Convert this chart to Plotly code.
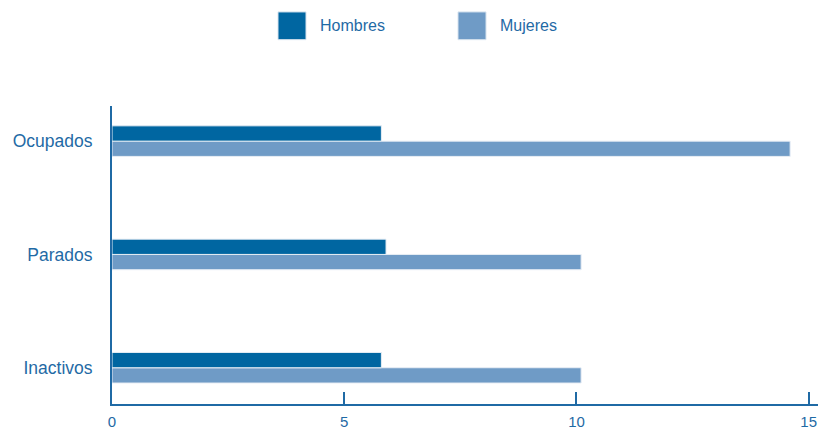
import plotly.graph_objects as go

categories = ["Ocupados", "Parados", "Inactivos"]
hombres = [5.8, 5.9, 5.8]
mujeres = [14.6, 10.1, 10.1]
series_names = ["Hombres", "Mujeres"]
x_ticks = [0, 5, 10, 15]

C_H = "#0066a1"
C_M = "#6f9bc6"
C_TXT = "#1f6aa5"
FONT = "Liberation Sans, Arial, sans-serif"

W, H = 819, 431
L, R, T, B = 112, 1, 106, 24
pw, ph = W - L - R, H - T - B

def px_x(px):
    return (px - L) / pw

def px_y(py):
    return (H - B - py) / ph

fig = go.Figure()
# Mujeres first so it sits below Hombres within each group
fig.add_trace(go.Bar(y=categories, x=mujeres, name=series_names[1], orientation="h",
                     marker=dict(color=C_M, line=dict(color="#e8eef5", width=1)),
                     showlegend=False))
fig.add_trace(go.Bar(y=categories, x=hombres, name=series_names[0], orientation="h",
                     marker=dict(color=C_H, line=dict(color="#e8eef5", width=1)),
                     showlegend=False))

shapes = []
annotations = []
legend_items = [(series_names[0], C_H, 278, 318), (series_names[1], C_M, 458, 498)]
for name, col, bx, tx in legend_items:
    shapes.append(dict(type="rect", xref="paper", yref="paper",
                       x0=px_x(bx), x1=px_x(bx + 28), y0=px_y(39), y1=px_y(11),
                       fillcolor=col, line=dict(color="#d6e2ee", width=1)))
    annotations.append(dict(xref="paper", yref="paper", x=px_x(tx), y=px_y(25),
                            xanchor="left", yanchor="middle", showarrow=False,
                            text=name, font=dict(family=FONT, size=16, color=C_TXT)))

fig.update_layout(
    width=W, height=H,
    margin=dict(l=L, r=R, t=T, b=B, pad=0),
    paper_bgcolor="white", plot_bgcolor="white",
    barmode="group", bargap=0.73, bargroupgap=0,
    showlegend=False,
    shapes=shapes, annotations=annotations,
    xaxis=dict(range=[0, 15.2], tickvals=x_ticks, ticks="inside", ticklen=12,
               tickwidth=2, tickcolor=C_TXT, showgrid=False, zeroline=False,
               showline=True, linecolor=C_TXT, linewidth=2,
               tickfont=dict(family=FONT, size=15, color=C_TXT),
               ticklabelstandoff=3),
    yaxis=dict(categoryorder="array", categoryarray=categories[::-1],
               range=[-0.32, 2.31], showgrid=False, zeroline=False,
               showline=True, linecolor=C_TXT, linewidth=2, ticks="",
               tickfont=dict(family=FONT, size=17.5, color=C_TXT),
               ticklabelstandoff=14),
)

fig.write_html("out.html", config={"displayModeBar": False},
               post_script="document.body.style.margin='0px';document.body.style.padding='0px';")
